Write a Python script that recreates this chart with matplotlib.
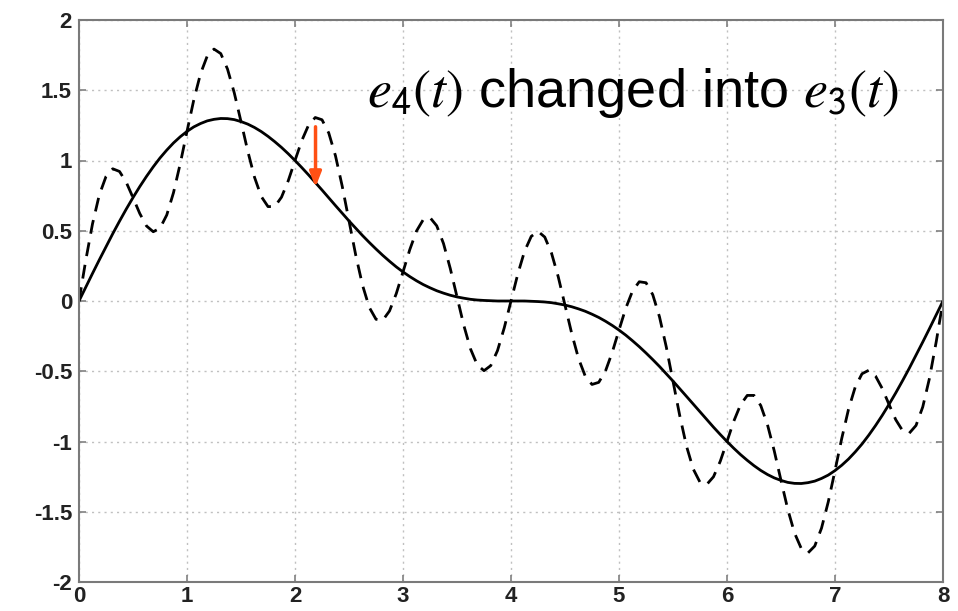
import numpy as np
import matplotlib
matplotlib.use('Agg')
import matplotlib.pyplot as plt

plt.rcParams['font.family'] = ['Liberation Sans', 'DejaVu Sans']
plt.rcParams['mathtext.fontset'] = 'stix'

# sample times, step 1/16 over 0..8
t = np.linspace(0, 8, 129)

# e3(t): slow curve (solid)
e3 = [0.000, 0.098, 0.196, 0.292, 0.386, 0.479, 0.568, 0.654, 0.736, 0.814,
      0.887, 0.955, 1.018, 1.074, 1.125, 1.169, 1.207, 1.239, 1.263, 1.282,
      1.293, 1.299, 1.298, 1.291, 1.277, 1.259, 1.235, 1.206, 1.172, 1.134,
      1.093, 1.048, 1.000, 0.950, 0.898, 0.844, 0.790, 0.734, 0.679, 0.624,
      0.570, 0.518, 0.466, 0.417, 0.370, 0.325, 0.283, 0.243, 0.207, 0.174,
      0.144, 0.117, 0.094, 0.073, 0.056, 0.041, 0.029, 0.020, 0.012, 0.007,
      0.004, 0.002, 0.000, 0.000, 0.000,
      -0.000, -0.000, -0.002, -0.004, -0.007, -0.012, -0.020, -0.029, -0.041,
      -0.056, -0.073, -0.094, -0.117, -0.144, -0.174, -0.207, -0.243, -0.283,
      -0.325, -0.370, -0.417, -0.466, -0.518, -0.570, -0.624, -0.679, -0.734,
      -0.790, -0.844, -0.898, -0.950, -1.000, -1.048, -1.093, -1.134, -1.172,
      -1.206, -1.235, -1.259, -1.277, -1.291, -1.298, -1.299, -1.293, -1.282,
      -1.263, -1.239, -1.207, -1.169, -1.125, -1.074, -1.018, -0.955, -0.887,
      -0.814, -0.736, -0.654, -0.568, -0.479, -0.386, -0.292, -0.196, -0.098,
      0.000]

# e4(t): wiggly curve (dashed)
e4 = [0.000, 0.289, 0.549, 0.754, 0.886, 0.941, 0.922, 0.845, 0.736, 0.623,
      0.534, 0.493, 0.518, 0.612, 0.771, 0.978, 1.207, 1.430, 1.617, 1.744,
      1.793, 1.761, 1.651, 1.482, 1.277, 1.067, 0.881, 0.744, 0.672, 0.672,
      0.739, 0.856, 1.000, 1.141, 1.251, 1.306, 1.290, 1.196, 1.033, 0.816,
      0.570, 0.326, 0.113, -0.045, -0.130, -0.137, -0.071, 0.052, 0.207, 0.365,
      0.498, 0.579, 0.594, 0.535, 0.409, 0.232, 0.029, -0.172, -0.341, -0.455,
      -0.496, -0.460, -0.353, -0.191, 0.000,
      0.191, 0.353, 0.460, 0.496, 0.455, 0.341, 0.172, -0.029, -0.232,
      -0.409, -0.535, -0.594, -0.579, -0.498, -0.365, -0.207, -0.052, 0.071,
      0.137, 0.130, 0.045, -0.113, -0.326, -0.570, -0.816, -1.033, -1.196,
      -1.290, -1.306, -1.251, -1.141, -1.000, -0.856, -0.739, -0.672, -0.672,
      -0.744, -0.881, -1.067, -1.277, -1.482, -1.651, -1.761, -1.793, -1.744,
      -1.617, -1.430, -1.207, -0.978, -0.771, -0.612, -0.518, -0.493, -0.534,
      -0.623, -0.736, -0.845, -0.922, -0.941, -0.886, -0.754, -0.549, -0.289,
      0.000]

xticks = [0, 1, 2, 3, 4, 5, 6, 7, 8]
yticks = [-2, -1.5, -1, -0.5, 0, 0.5, 1, 1.5, 2]
ytick_labels = ['-2', '-1.5', '-1', '-0.5', '0', '0.5', '1', '1.5', '2']

arrow_x = 2.19
arrow_from = 1.24
arrow_to = 0.81

fig = plt.figure(figsize=(9.58, 6.11), dpi=100)
ax = fig.add_axes([79 / 958, 1 - 582 / 611, 864 / 958, 562 / 611])

ax.plot(t, e4, color='black', lw=2.0, ls=(0, (5, 3.2)))
ax.plot(t, e3, color='black', lw=2.0)

ax.set_xlim(0, 8)
ax.set_ylim(-2, 2)
ax.set_xticks(xticks)
ax.set_yticks(yticks)
ax.set_yticklabels(ytick_labels)
ax.grid(True, ls=(0, (1.5, 3)), color='#c0c0c0', lw=1)
ax.tick_params(direction='in', length=5, width=1.2, color='#808080',
               labelsize=16, top=True, right=True)
ax.tick_params(axis='x', pad=3)
ax.tick_params(axis='y', pad=5)
for lab in ax.get_xticklabels() + ax.get_yticklabels():
    lab.set_fontweight('bold')
    lab.set_color('#222222')
for s in ax.spines.values():
    s.set_color('#7a7a7a')
    s.set_linewidth(1.5)

ax.annotate('', xy=(arrow_x, arrow_to), xytext=(arrow_x, arrow_from),
            arrowprops=dict(arrowstyle='-|>,head_width=0.35,head_length=0.9',
                            color='#ff5014', lw=2.5, shrinkA=0, shrinkB=0))

ax.text(2.67, 1.38, r'$e_\mathsf{4}(t)$ changed into $e_\mathsf{3}(t)$',
        fontsize=39, va='baseline', ha='left')

fig.savefig('out.png', dpi=100)
